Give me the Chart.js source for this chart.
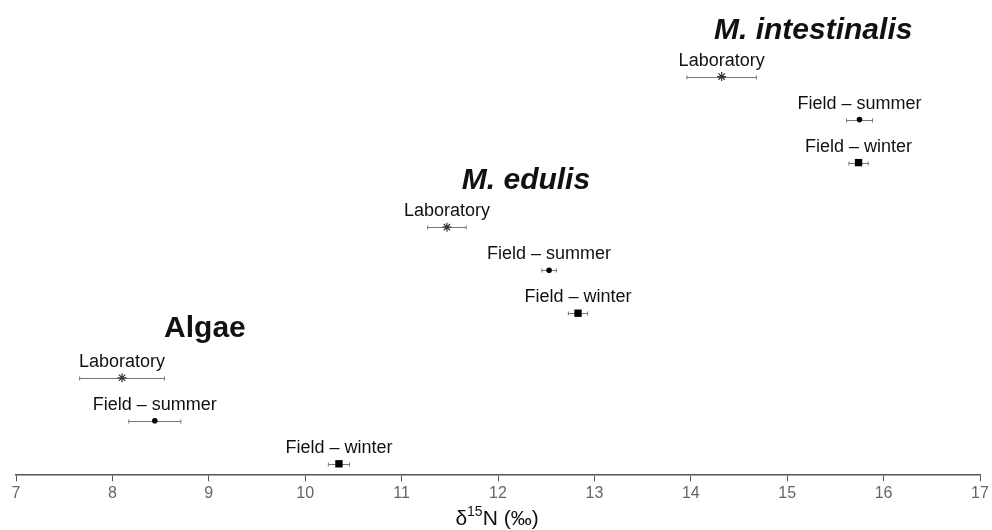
<!DOCTYPE html>
<html>
<head>
<meta charset="utf-8">
<script src="https://cdn.jsdelivr.net/npm/chart.js@4"></script>
<style>
  html, body { margin: 0; padding: 0; background: #fff; }
  #wrap { width: 992px; height: 530px; }
</style>
</head>
<body>
<div id="wrap"><canvas id="chart"></canvas></div>
<script>
// groups (bottom to top) and sample types
const groups = ["Algae", "M. edulis", "M. intestinalis"];
const conditions = ["Laboratory", "Field \u2013 summer", "Field \u2013 winter"];

// mean d15N per condition, one value per group
const labMean = [8.10, 11.47, 14.32];
const summerMean = [8.44, 12.53, 15.75];
const winterMean = [10.35, 12.83, 15.74];

// error (+/-) per condition, one value per group
const labErr = [0.44, 0.20, 0.36];
const summerErr = [0.27, 0.075, 0.135];
const winterErr = [0.11, 0.10, 0.10];

const xTicks = [7, 8, 9, 10, 11, 12, 13, 14, 15, 16, 17];

// where the group titles sit (x in per mil units)
const titleX = [8.96, 12.29, 15.27];

const means = [labMean, summerMean, winterMean];
const errs = [labErr, summerErr, winterErr];
const styles = ["star", "circle", "rect"];
const radii = [4.5, 2.8, 5.2];

// rows: lab on top of each group, winter at the bottom
function rowY(g, c) { return g * 3.5 + (3 - c); }

const datasets = conditions.map((name, c) => ({
  label: name,
  data: groups.map((g, gi) => ({ x: means[c][gi], y: rowY(gi, c), err: errs[c][gi] })),
  pointStyle: styles[c],
  pointRadius: radii[c],
  pointBorderWidth: c === 0 ? 1.2 : 0,
  borderColor: c === 0 ? "#333" : "#000",
  backgroundColor: "#000",
  clip: false
}));

const extras = {
  id: "extras",
  beforeDatasetsDraw(chart) {
    const ctx = chart.ctx, xs = chart.scales.x, ys = chart.scales.y;
    ctx.save();
    ctx.strokeStyle = "#777";
    ctx.lineWidth = 1;
    chart.data.datasets.forEach(ds => {
      ds.data.forEach(p => {
        const y = Math.round(ys.getPixelForValue(p.y)) + 0.5;
        const x0 = xs.getPixelForValue(p.x - p.err);
        const x1 = xs.getPixelForValue(p.x + p.err);
        ctx.beginPath();
        ctx.moveTo(x0, y); ctx.lineTo(x1, y);
        ctx.moveTo(x0, y - 2); ctx.lineTo(x0, y + 2);
        ctx.moveTo(x1, y - 2); ctx.lineTo(x1, y + 2);
        ctx.stroke();
      });
    });
    ctx.restore();
  },
  afterDatasetsDraw(chart) {
    const ctx = chart.ctx, xs = chart.scales.x, ys = chart.scales.y;
    ctx.save();
    ctx.fillStyle = "#111";
    ctx.textAlign = "center";
    ctx.textBaseline = "alphabetic";
    ctx.font = "18px 'Liberation Sans', Arial, sans-serif";
    chart.data.datasets.forEach(ds => {
      ds.data.forEach(p => {
        ctx.fillText(ds.label, xs.getPixelForValue(p.x), ys.getPixelForValue(p.y) - 11);
      });
    });
    // group titles
    ctx.textBaseline = "middle";
    groups.forEach((g, gi) => {
      ctx.font = (gi === 0 ? "bold " : "italic bold ") + "30px 'Liberation Sans', Arial, sans-serif";
      ctx.fillText(g, xs.getPixelForValue(titleX[gi]), ys.getPixelForValue(rowY(gi, 0)) - (gi === 0 ? 49 : 46));
    });
    // axis title with superscript
    const cx = (xs.left + xs.right) / 2 - 1, by = 525;
    const big = "21px 'Liberation Sans', Arial, sans-serif";
    const small = "14px 'Liberation Sans', Arial, sans-serif";
    ctx.textBaseline = "alphabetic";
    ctx.textAlign = "left";
    ctx.font = big; const w1 = ctx.measureText("\u03b4").width;
    ctx.font = small; const w2 = ctx.measureText("15").width;
    ctx.font = big; const w3 = ctx.measureText("N (\u2030)").width;
    let x = cx - (w1 + w2 + w3) / 2;
    ctx.font = big; ctx.fillText("\u03b4", x, by); x += w1;
    ctx.font = small; ctx.fillText("15", x, by - 9); x += w2;
    ctx.font = big; ctx.fillText("N (\u2030)", x, by);
    ctx.restore();
  }
};

new Chart(document.getElementById("chart"), {
  type: "scatter",
  data: { datasets },
  options: {
    responsive: true,
    maintainAspectRatio: false,
    animation: false,
    layout: { padding: { left: 16, right: 12, top: 0, bottom: 23.5 } },
    plugins: { legend: { display: false }, tooltip: { enabled: false } },
    scales: {
      x: {
        type: "linear",
        min: 7,
        max: 17,
        afterBuildTicks: axis => { axis.ticks = xTicks.map(v => ({ value: v })); },
        grid: { drawOnChartArea: false, drawTicks: true, tickLength: 7, color: "#555" },
        border: { color: "#555", width: 1.5 },
        ticks: { color: "#666", font: { family: "'Liberation Sans', Arial, sans-serif", size: 16 }, padding: 3 }
      },
      y: {
        type: "linear",
        display: false,
        min: 0.756,
        max: 11.647
      }
    }
  },
  plugins: [extras]
});
</script>
</body>
</html>
